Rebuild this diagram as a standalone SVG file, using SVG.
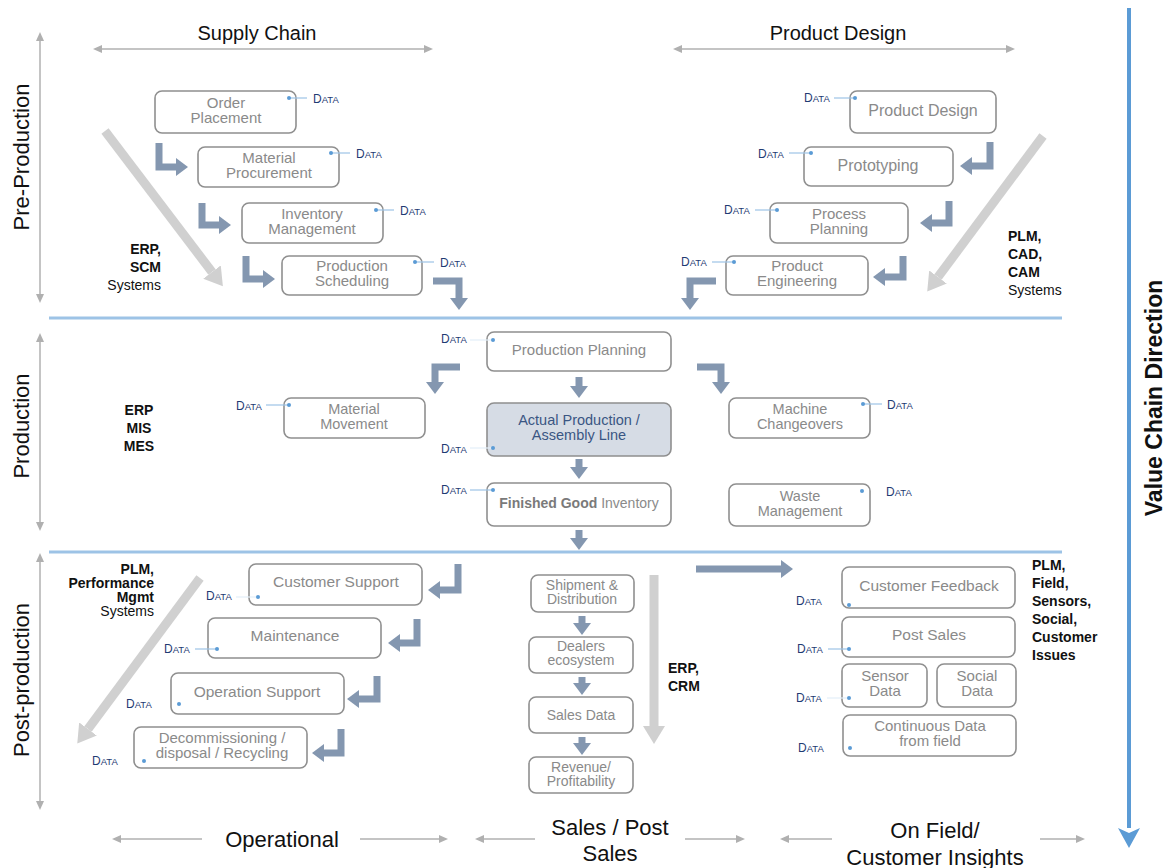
<svg xmlns="http://www.w3.org/2000/svg" width="1166" height="868" viewBox="0 0 1166 868">
<style>
.box{fill:#fff;stroke:#8f8f8f;stroke-width:1.6}
.hl{fill:#d6dce5;stroke:#8f8f8f;stroke-width:1.6}
.bt{font-family:"Liberation Sans",Arial,sans-serif;fill:#8a8a8a;text-anchor:middle}
.s16{font-size:16px}.s15{font-size:15px}.s145{font-size:14.5px}.s155{font-size:15.5px}.s14{font-size:14px}
.data{font-family:"Liberation Sans",Arial,sans-serif;font-size:12px;fill:#1f3b73}
.data tspan{font-size:9.5px}
.dot{fill:#5b9bd5}
.dl{stroke:#9dc3e6;stroke-width:1.2}
.dlf{stroke:#e3eef8;stroke-width:1.2}
.ba{fill:none;stroke:#8497b0;stroke-width:7;stroke-linejoin:miter;marker-end:url(#bh)}
.ga{fill:none;stroke:#d0d0d0;stroke-width:9;marker-end:url(#gh)}
.ta{fill:none;stroke:#b0b0b0;stroke-width:1.5}
.tab{marker-start:url(#th);marker-end:url(#th)}
.tas{marker-start:url(#th)}
.tae{marker-end:url(#th)}
.sep{stroke:#9dc3e6;stroke-width:3}
.sys{font-family:"Liberation Sans",Arial,sans-serif;font-size:14px;font-weight:bold;fill:#111}
.nw{font-weight:normal}
.hdr{font-family:"Liberation Sans",Arial,sans-serif;font-size:20px;fill:#111;text-anchor:middle}
.ftr{font-family:"Liberation Sans",Arial,sans-serif;font-size:22px;fill:#111;text-anchor:middle}
</style>
<defs>
<marker id="bh" markerUnits="userSpaceOnUse" markerWidth="12" markerHeight="18" viewBox="0 0 12 18" refX="0" refY="9" orient="auto"><path d="M0,0 L12,9 L0,18z" fill="#8497b0"/></marker>
<marker id="gh" markerUnits="userSpaceOnUse" markerWidth="18" markerHeight="22" viewBox="0 0 18 22" refX="0" refY="11" orient="auto"><path d="M0,0 L18,11 L0,22z" fill="#d0d0d0"/></marker>
<marker id="th" markerUnits="userSpaceOnUse" markerWidth="9" markerHeight="8" viewBox="0 0 9 8" refX="0" refY="4" orient="auto-start-reverse"><path d="M0,0 L9,4 L0,8z" fill="#b0b0b0"/></marker>
<marker id="blh" markerUnits="userSpaceOnUse" markerWidth="20" markerHeight="22" viewBox="0 0 20 22" refX="0" refY="11" orient="auto"><path d="M0,0 L20,11 L0,22 L5,11z" fill="#5b9bd5"/></marker>
</defs>
<rect width="1166" height="868" fill="#fff"/>

<!-- section headers and axes -->
<g id="axes">
<text class="hdr" x="257" y="40">Supply Chain</text>
<text class="hdr" x="838" y="40">Product Design</text>
<path class="ta tab" d="M102,49 H424"/>
<path class="ta tab" d="M682,49 H1006"/>
<path class="ta tab" d="M40,41 V294"/>
<path class="ta tab" d="M40,342 V522"/>
<path class="ta tab" d="M40,562 V801"/>
<text class="ftr" transform="translate(29,157) rotate(-90)">Pre-Production</text>
<text class="ftr" transform="translate(29,426) rotate(-90)">Production</text>
<text class="ftr" transform="translate(29,680) rotate(-90)">Post-production</text>
<line class="sep" x1="49" y1="318" x2="1062" y2="318"/>
<line class="sep" x1="49" y1="552" x2="1062" y2="552"/>
<path d="M1129,8 V828" stroke="#5b9bd5" stroke-width="4" fill="none" marker-end="url(#blh)"/>
<text transform="translate(1162,398) rotate(-90)" font-family="Liberation Sans, Arial, sans-serif" font-size="23" font-weight="bold" fill="#111" text-anchor="middle">Value Chain Direction</text>
<text class="ftr" x="282" y="847">Operational</text>
<path class="ta tas" d="M121,839 H202"/>
<path class="ta tae" d="M360,839 H439"/>
<text class="ftr" x="610" y="835">Sales / Post</text>
<text class="ftr" x="610" y="861">Sales</text>
<path class="ta tas" d="M484,839 H535"/>
<path class="ta tae" d="M685,839 H736"/>
<text class="ftr" x="935" y="838">On Field/</text>
<text class="ftr" x="935" y="865">Customer Insights</text>
<path class="ta tas" d="M789,839 H832"/>
<path class="ta tae" d="M1040,839 H1076"/>
</g>

<!-- system labels -->
<g id="systems">
<text class="sys" text-anchor="end"><tspan x="161" y="254">ERP,</tspan><tspan x="161" y="272">SCM</tspan><tspan x="161" y="290" class="nw">Systems</tspan></text>
<text class="sys"><tspan x="1008" y="241">PLM,</tspan><tspan x="1008" y="259">CAD,</tspan><tspan x="1008" y="277">CAM</tspan><tspan x="1008" y="295" class="nw">Systems</tspan></text>
<text class="sys" text-anchor="middle"><tspan x="139" y="415">ERP</tspan><tspan x="139" y="433">MIS</tspan><tspan x="139" y="451">MES</tspan></text>
<text class="sys" text-anchor="end"><tspan x="154" y="574">PLM,</tspan><tspan x="154" y="588">Performance</tspan><tspan x="154" y="602">Mgmt</tspan><tspan x="154" y="616" class="nw">Systems</tspan></text>
<text class="sys"><tspan x="668" y="673">ERP,</tspan><tspan x="668" y="691">CRM</tspan></text>
<text class="sys"><tspan x="1032" y="570">PLM,</tspan><tspan x="1032" y="588">Field,</tspan><tspan x="1032" y="606">Sensors,</tspan><tspan x="1032" y="624">Social,</tspan><tspan x="1032" y="642">Customer</tspan><tspan x="1032" y="660">Issues</tspan></text>
</g>

<!-- connectors -->
<g id="connectors">
<path class="ga" d="M105,131 L212,272"/>
<path class="ga" d="M1043,136 L938,277"/>
<path class="ga" d="M200,578 L88,729"/>
<path class="ga" d="M654,575 V726"/>
<path class="ba" d="M159,143 V167 H176"/>
<path class="ba" d="M202,203 V225 H219"/>
<path class="ba" d="M246,256 V279 H263"/>
<path class="ba" d="M433,281 H459 V298"/>
<path class="ba" d="M990,142 V166 H972"/>
<path class="ba" d="M949,201 V223 H932"/>
<path class="ba" d="M903,256 V277 H885"/>
<path class="ba" d="M716,281 H690 V298"/>
<path class="ba" d="M460,367 H435 V382"/>
<path class="ba" d="M697,367 H721 V382"/>
<path class="ba" d="M579,377 V386"/>
<path class="ba" d="M579,459 V467"/>
<path class="ba" d="M579,530 V538"/>
<path class="ba" d="M458,564 V590 H440"/>
<path class="ba" d="M417,619 V643 H400"/>
<path class="ba" d="M377,676 V699 H359"/>
<path class="ba" d="M341,729 V753 H324"/>
<path class="ba" d="M582,616 V623"/>
<path class="ba" d="M582,677 V683"/>
<path class="ba" d="M582,737 V743"/>
<path class="ba" d="M696,569 H781" stroke-width="8"/>
</g>

<!-- Pre-production: supply chain -->
<g id="order-placement">
<rect class="box" x="155" y="91" width="141" height="42" rx="7"/>
<text class="bt s15"><tspan x="226" y="108">Order</tspan><tspan x="226" y="123">Placement</tspan></text>
<line class="dl" x1="289" y1="98" x2="307" y2="98"/><circle class="dot" cx="289" cy="98" r="2"/>
<text class="data" x="313" y="103">D<tspan>ATA</tspan></text>
</g>
<g id="material-procurement">
<rect class="box" x="198" y="147" width="141" height="40" rx="7"/>
<text class="bt s15"><tspan x="269" y="163">Material</tspan><tspan x="269" y="178">Procurement</tspan></text>
<line class="dl" x1="331" y1="153" x2="350" y2="153"/><circle class="dot" cx="331" cy="153" r="2"/>
<text class="data" x="356" y="158">D<tspan>ATA</tspan></text>
</g>
<g id="inventory-management">
<rect class="box" x="242" y="203" width="141" height="40" rx="7"/>
<text class="bt s15"><tspan x="312" y="219">Inventory</tspan><tspan x="312" y="234">Management</tspan></text>
<line class="dl" x1="376" y1="210" x2="394" y2="210"/><circle class="dot" cx="376" cy="210" r="2"/>
<text class="data" x="400" y="215">D<tspan>ATA</tspan></text>
</g>
<g id="production-scheduling">
<rect class="box" x="282" y="256" width="140" height="39" rx="7"/>
<text class="bt s15"><tspan x="352" y="271">Production</tspan><tspan x="352" y="286">Scheduling</tspan></text>
<line class="dl" x1="415" y1="262" x2="434" y2="262"/><circle class="dot" cx="415" cy="262" r="2"/>
<text class="data" x="440" y="267">D<tspan>ATA</tspan></text>
</g>

<!-- Pre-production: product design -->
<g id="product-design">
<rect class="box" x="850" y="91" width="146" height="42" rx="7"/>
<text class="bt s16" x="923" y="116">Product Design</text>
<line class="dl" x1="834" y1="98" x2="855" y2="98"/><circle class="dot" cx="855" cy="98" r="2"/>
<text class="data" x="804" y="102">D<tspan>ATA</tspan></text>
</g>
<g id="prototyping">
<rect class="box" x="804" y="147" width="149" height="39" rx="7"/>
<text class="bt s16" x="878" y="171">Prototyping</text>
<line class="dl" x1="789" y1="153" x2="811" y2="153"/><circle class="dot" cx="811" cy="153" r="2"/>
<text class="data" x="758" y="158">D<tspan>ATA</tspan></text>
</g>
<g id="process-planning">
<rect class="box" x="770" y="203" width="138" height="40" rx="7"/>
<text class="bt s15"><tspan x="839" y="219">Process</tspan><tspan x="839" y="234">Planning</tspan></text>
<line class="dl" x1="755" y1="210" x2="777" y2="210"/><circle class="dot" cx="777" cy="210" r="2"/>
<text class="data" x="724" y="214">D<tspan>ATA</tspan></text>
</g>
<g id="product-engineering">
<rect class="box" x="726" y="256" width="142" height="39" rx="7"/>
<text class="bt s15"><tspan x="797" y="271">Product</tspan><tspan x="797" y="286">Engineering</tspan></text>
<line class="dl" x1="712" y1="262" x2="734" y2="262"/><circle class="dot" cx="734" cy="262" r="2"/>
<text class="data" x="681" y="266">D<tspan>ATA</tspan></text>
</g>

<!-- Production -->
<g id="production-planning">
<rect class="box" x="487" y="332" width="184" height="39" rx="7"/>
<text class="bt s15" x="579" y="355">Production Planning</text>
<line class="dlf" x1="470" y1="340" x2="493" y2="340"/><circle class="dot" cx="493" cy="340" r="2"/>
<text class="data" x="441" y="343">D<tspan>ATA</tspan></text>
</g>
<g id="actual-production">
<rect class="hl" x="487" y="403" width="184" height="53" rx="7"/>
<text class="bt s145" style="fill:#3a5683"><tspan x="579" y="425">Actual Production /</tspan><tspan x="579" y="440">Assembly Line</tspan></text>
<line class="dlf" x1="470" y1="448" x2="493" y2="448"/><circle class="dot" cx="493" cy="448" r="2"/>
<text class="data" x="441" y="453">D<tspan>ATA</tspan></text>
</g>
<g id="finished-good-inventory">
<rect class="box" x="487" y="483" width="184" height="43" rx="7"/>
<text class="bt s14" x="579" y="508"><tspan font-weight="bold" style="fill:#7a7a7a">Finished Good</tspan> Inventory</text>
<line class="dl" x1="470" y1="490" x2="493" y2="490"/><circle class="dot" cx="493" cy="490" r="2"/>
<text class="data" x="441" y="494">D<tspan>ATA</tspan></text>
</g>
<g id="material-movement">
<rect class="box" x="284" y="398" width="141" height="40" rx="7"/>
<text class="bt s145"><tspan x="354" y="414">Material</tspan><tspan x="354" y="428.5">Movement</tspan></text>
<line class="dl" x1="266" y1="405" x2="289" y2="405"/><circle class="dot" cx="289" cy="405" r="2"/>
<text class="data" x="236" y="410">D<tspan>ATA</tspan></text>
</g>
<g id="machine-changeovers">
<rect class="box" x="729" y="398" width="141" height="40" rx="7"/>
<text class="bt s145"><tspan x="800" y="414">Machine</tspan><tspan x="800" y="428.5">Changeovers</tspan></text>
<line class="dl" x1="863" y1="404" x2="882" y2="404"/><circle class="dot" cx="863" cy="404" r="2"/>
<text class="data" x="887" y="409">D<tspan>ATA</tspan></text>
</g>
<g id="waste-management">
<rect class="box" x="729" y="484" width="141" height="42" rx="7"/>
<text class="bt s145"><tspan x="800" y="501">Waste</tspan><tspan x="800" y="515.5">Management</tspan></text>
<circle class="dot" cx="862" cy="491" r="2"/>
<text class="data" x="886" y="496">D<tspan>ATA</tspan></text>
</g>

<!-- Post-production: operational -->
<g id="customer-support">
<rect class="box" x="249" y="564" width="173" height="41" rx="7"/>
<text class="bt s155" x="336" y="587">Customer Support</text>
<line class="dlf" x1="236" y1="597" x2="258" y2="597"/><circle class="dot" cx="258" cy="597" r="2"/>
<text class="data" x="206" y="600">D<tspan>ATA</tspan></text>
</g>
<g id="maintenance">
<rect class="box" x="208" y="618" width="173" height="40" rx="7"/>
<text class="bt s155" x="295" y="641">Maintenance</text>
<line class="dl" x1="195" y1="649" x2="217" y2="649"/><circle class="dot" cx="217" cy="649" r="2"/>
<text class="data" x="164" y="653">D<tspan>ATA</tspan></text>
</g>
<g id="operation-support">
<rect class="box" x="171" y="673" width="173" height="41" rx="7"/>
<text class="bt s155" x="257" y="697">Operation Support</text>
<circle class="dot" cx="179" cy="704" r="2"/>
<text class="data" x="126" y="708">D<tspan>ATA</tspan></text>
</g>
<g id="decommissioning">
<rect class="box" x="134" y="727" width="173" height="41" rx="7"/>
<text class="bt s15"><tspan x="222" y="743">Decommissioning /</tspan><tspan x="222" y="758">disposal / Recycling</tspan></text>
<circle class="dot" cx="144" cy="761" r="2"/>
<text class="data" x="92" y="765">D<tspan>ATA</tspan></text>
</g>

<!-- Post-production: sales -->
<g id="shipment-distribution">
<rect class="box" x="531" y="575" width="103" height="37" rx="7"/>
<text class="bt s14"><tspan x="582" y="590">Shipment &amp;</tspan><tspan x="582" y="604">Distribution</tspan></text>
</g>
<g id="dealers-ecosystem">
<rect class="box" x="529" y="637" width="104" height="36" rx="7"/>
<text class="bt s14"><tspan x="581" y="651">Dealers</tspan><tspan x="581" y="665">ecosystem</tspan></text>
</g>
<g id="sales-data">
<rect class="box" x="529" y="697" width="104" height="36" rx="7"/>
<text class="bt s14" x="581" y="720">Sales Data</text>
</g>
<g id="revenue-profitability">
<rect class="box" x="529" y="757" width="104" height="36" rx="7"/>
<text class="bt s14"><tspan x="581" y="772">Revenue/</tspan><tspan x="581" y="786">Profitability</tspan></text>
</g>

<!-- Post-production: on field -->
<g id="customer-feedback">
<rect class="box" x="842" y="567" width="173" height="41" rx="7"/>
<text class="bt s155" x="929" y="591">Customer Feedback</text>
<circle class="dot" cx="849" cy="605" r="2"/>
<text class="data" x="796" y="605">D<tspan>ATA</tspan></text>
</g>
<g id="post-sales">
<rect class="box" x="842" y="617" width="173" height="40" rx="7"/>
<text class="bt s155" x="929" y="640">Post Sales</text>
<line class="dl" x1="828" y1="649" x2="849" y2="649"/><circle class="dot" cx="849" cy="649" r="2"/>
<text class="data" x="797" y="653">D<tspan>ATA</tspan></text>
</g>
<g id="sensor-data">
<rect class="box" x="842" y="664" width="85" height="43" rx="7"/>
<text class="bt s15"><tspan x="885" y="681">Sensor</tspan><tspan x="885" y="696">Data</tspan></text>
<line class="dlf" x1="827" y1="698" x2="849" y2="698"/><circle class="dot" cx="849" cy="698" r="2"/>
<text class="data" x="796" y="702">D<tspan>ATA</tspan></text>
</g>
<g id="social-data">
<rect class="box" x="937" y="664" width="79" height="43" rx="7"/>
<text class="bt s15"><tspan x="977" y="681">Social</tspan><tspan x="977" y="696">Data</tspan></text>
</g>
<g id="continuous-data">
<rect class="box" x="843" y="715" width="173" height="41" rx="7"/>
<text class="bt s15"><tspan x="930" y="731">Continuous Data</tspan><tspan x="930" y="746">from field</tspan></text>
<circle class="dot" cx="850" cy="748" r="2"/>
<text class="data" x="798" y="752">D<tspan>ATA</tspan></text>
</g>
</svg>
